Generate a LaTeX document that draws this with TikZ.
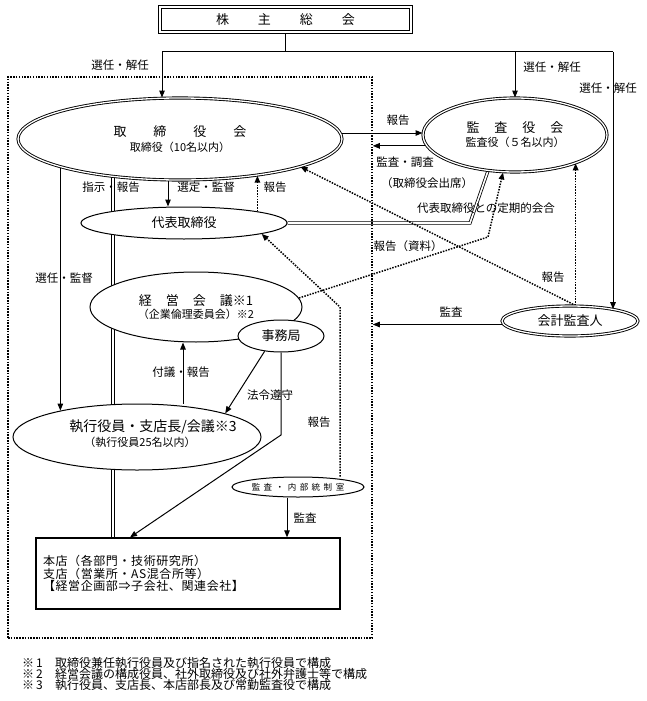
\documentclass[tikz,border=0pt]{standalone}
\usepackage{fontspec}
\setmainfont{Noto Sans CJK JP}
\usetikzlibrary{shapes.geometric,arrows.meta,backgrounds}
\newcommand\ttlf{\fontsize{13}{15}\selectfont}
\begin{document}
\begin{tikzpicture}[x=1pt,y=-1pt,
  >={Triangle[length=7pt,width=5.5pt]},
  solidline/.style={line width=1pt},
  arr/.style={line width=1pt,->},
  dotline/.style={line width=1.5pt,dash pattern=on 1.5pt off 1.3pt},
  dotarr/.style={dotline,->},
  dblline/.style={double,double distance=1.6pt,line width=0.8pt},
  dblell/.style={ellipse,draw,double,double distance=1.3pt,line width=0.9pt,fill=white,inner sep=0pt},
  ell/.style={ellipse,draw,line width=1pt,fill=white,inner sep=0pt},
  lab/.style={font=\fontsize{11.5}{13}\selectfont,inner sep=0pt},
  fn/.style={font=\fontsize{12}{13}\selectfont,inner sep=0pt,anchor=west}]
\useasboundingbox (0,0) rectangle (647,701);

% frame and boxes
\node[dotline,draw,minimum width=364pt,minimum height=561pt,inner sep=0pt] (fr) at (190,357.5) {};
\node[draw,double,double distance=1.5pt,line width=1pt,fill=white,minimum width=251pt,minimum height=25pt,inner sep=0pt,font=\ttlf] (sh) at (285.5,19.5) {株\hspace{29pt}主\hspace{29pt}総\hspace{29pt}会};
\node[draw,line width=1.3pt,fill=white,minimum width=304pt,minimum height=71pt,text width=290pt,align=left,inner sep=0pt,font=\fontsize{12}{12.5}\selectfont\addfontfeature{LetterSpace=5}] (hb) at (188,573.5) {本店（各部門・技術研究所）\\支店（営業所・AS混合所等）\\【経営企画部⇒子会社、関連会社】\\[3pt]};

% ellipses
\node[dblell,minimum width=324pt,minimum height=82pt,align=center,font=\fontsize{11}{15}\selectfont] (kt) at (180,139) {{\ttlf 取\hspace{27pt}締\hspace{27pt}役\hspace{27pt}会}\\取締役（10名以内）};
\node[dblell,minimum width=184pt,minimum height=74pt,align=center,font=\fontsize{11}{14}\selectfont] (ka) at (515,135) {{\ttlf 監\hspace{15pt}査\hspace{15pt}役\hspace{15pt}会}\\監査役（５名以内）};
\node[ell,minimum width=206pt,minimum height=32pt,font=\ttlf] (dh) at (184,223) {代表取締役};
\node[ell,minimum width=212pt,minimum height=70pt,align=center,font=\fontsize{11}{12.5}\selectfont] (kk) at (196,307) {{\ttlf 経\hspace{14pt}営\hspace{14pt}会\hspace{14pt}議※1}\\（企業倫理委員会）※2};
\node[ell,minimum width=86pt,minimum height=32pt,font=\ttlf] (jm) at (281,336) {事務局};
\node[ell,minimum width=248pt,minimum height=66pt] (sy) at (137,437) {};
\node[inner sep=0pt,font=\fontsize{14}{16}\selectfont] (syt1) at (153,427) {執行役員・支店長/会議※3};
\node[inner sep=0pt,font=\fontsize{11}{13}\selectfont] (syt2) at (140,442) {（執行役員25名以内）};
\node[ell,minimum width=132pt,minimum height=20pt,font=\fontsize{8.5}{10}\selectfont] (sa) at (298,487) {監\kern3.5pt 査\kern3.5pt ・\kern3.5pt 内\kern3.5pt 部\kern3.5pt 統\kern3.5pt 制\kern3.5pt 室};
\node[dblell,minimum width=136pt,minimum height=30pt,font=\ttlf] (kc) at (570,321) {会計監査人};

% connectors
\begin{scope}[on background layer]
  \coordinate (jl) at (162,52);
  \coordinate (jr) at (613,52);
  \draw[solidline] (sh.south) -- (sh.south |- jl);
  \draw[solidline] (jl) -- (jr);
  \draw[arr] (jl) -- (jl |- kt.north);
  \draw[arr] (ka.north |- jl) -- (ka.north);
  \draw[arr] (jr) -- (jr |- kc.15);
  \draw[arr] (kt.east |- 0,133) -- (ka.west |- 0,133);
  \draw[arr] (ka.187) -- (fr.east |- ka.187);
  \draw[arr] (sy.161 |- kt.center) -- (sy.161);
  \draw[dblline] (113,0 |- kt.center) -- (113,0 |- hb.north);
  \draw[arr] (168,0 |- kt.south) -- (168,0 |- dh.north);
  \draw[dotarr] (dh.9) -- (dh.9 |- kt.334);
  \draw[arr] (183,0 |- sy.north) -- (183,0 |- kk.south);
  \draw[arr] (jm.223) -- (sy.15);
  \draw[arr] (jm.south) -- (jm.south |- 0,435) -- (130,0 |- hb.north);
  \draw[dotarr] (340,0 |- sa.north) -- (340,307) -- (dh.352);
  \draw[arr] (287,0 |- sa.south) -- (287,0 |- hb.north);
  \draw[dotarr] (kk.5) -- (488,237) -- (503,0 |- ka.south);
  \draw[dblline] (dh.east) -- (470,0 |- dh.east) -- (ka.233);
  \draw[arr] (kc.183) -- (fr.east |- kc.183);
  \draw[dotarr] (ka.335 |- kc.north) -- (ka.335);
  \draw[dotarr] (ka.335 |- kc.north) -- (kt.347);
\end{scope}

% labels
\node[lab] (l1) at (120,65) {選任・解任};
\node[lab] (l2) at (552,67) {選任・解任};
\node[lab] (l3) at (608,88) {選任・解任};
\node[lab] (l4) at (398,120) {報告};
\node[lab] (l5) at (405,162) {監査・調査};
\node[lab] (l6) at (427,183) {（取締役会出席）};
\node[lab] (l7) at (111,187) {指示・報告};
\node[lab] (l8) at (206,187) {選定・監督};
\node[lab] (l9) at (275,187) {報告};
\node[lab] (l10) at (486,208) {代表取締役との定期的会合};
\node[lab] (l11) at (408,246) {報告（資料）};
\node[lab] (l12) at (553,277) {報告};
\node[lab] (l13) at (64,278) {選任・監督};
\node[lab] (l14) at (451,312) {監査};
\node[lab] (l15) at (181,372) {付議・報告};
\node[lab] (l16) at (270,395) {法令遵守};
\node[lab] (l17) at (319,422) {報告};
\node[lab] (l18) at (305,518) {監査};

% footnotes
\node[fn] (fn1) at (22,663) {\makebox[33pt][l]{※\hspace{2pt}1}取締役兼任執行役員及び指名された執行役員で構成};
\node[fn] (fn2) at (22,674) {\makebox[33pt][l]{※\hspace{2pt}2}経営会議の構成役員、社外取締役及び社外弁護士等で構成};
\node[fn] (fn3) at (22,685) {\makebox[33pt][l]{※\hspace{2pt}3}執行役員、支店長、本店部長及び常勤監査役で構成};
\end{tikzpicture}
\end{document}
